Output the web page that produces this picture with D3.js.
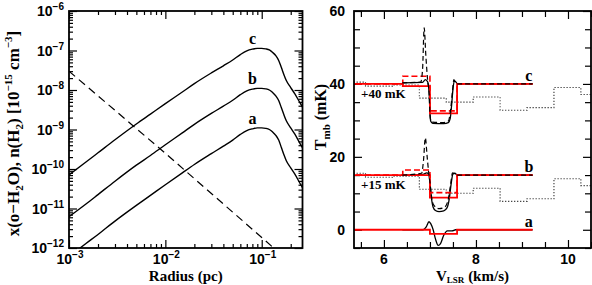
<!DOCTYPE html>
<html>
<head>
<meta charset="utf-8">
<script src="https://cdn.jsdelivr.net/npm/d3@7"></script>
<style>
  body { margin: 0; background: #fff; }
  svg { display: block; }
</style>
</head>
<body>
<div id="chart"></div>
<script>
// ---- left panel: abundance profiles vs radius ----
const radius = [0.001, 0.0015, 0.002, 0.003, 0.005, 0.007, 0.01, 0.015, 0.02, 0.03, 0.04, 0.05,
  0.06, 0.07, 0.08, 0.09, 0.1, 0.11, 0.12, 0.13, 0.14, 0.15, 0.16, 0.17, 0.18, 0.2, 0.22, 0.25, 0.27];
const profileA = [6.1e-13, 1.3e-12, 2.2e-12, 4.8e-12, 1.2e-11, 2.15e-11, 4.0e-11, 8.0e-11, 1.3e-10, 2.45e-10, 3.8e-10, 5.4e-10,
  7.5e-10, 9.4e-10, 1.04e-9, 1.1e-9, 1.1e-9, 1.07e-9, 1.0e-9, 8.6e-10, 7.1e-10, 5.4e-10, 3.5e-10, 2.3e-10, 1.62e-10, 1.07e-10, 7.5e-11, 4.3e-11, 3.1e-11];
const profileB = [6.2e-12, 1.3e-11, 2.25e-11, 4.9e-11, 1.25e-10, 2.2e-10, 4.1e-10, 8.2e-10, 1.35e-9, 2.55e-9, 3.9e-9, 5.5e-9,
  7.6e-9, 9.5e-9, 1.05e-8, 1.1e-8, 1.1e-8, 1.07e-8, 1.0e-8, 8.6e-9, 7.1e-9, 5.4e-9, 3.55e-9, 2.35e-9, 1.66e-9, 1.1e-9, 7.7e-10, 4.4e-10, 3.2e-10];
const profileC = [7.1e-11, 1.5e-10, 2.57e-10, 5.5e-10, 1.38e-9, 2.45e-9, 4.5e-9, 8.9e-9, 1.45e-8, 2.7e-8, 4.1e-8, 5.75e-8,
  7.9e-8, 9.8e-8, 1.08e-7, 1.135e-7, 1.135e-7, 1.1e-7, 1.035e-7, 8.9e-8, 7.4e-8, 5.6e-8, 3.7e-8, 2.45e-8, 1.74e-8, 1.15e-8, 8.1e-9, 4.7e-9, 3.4e-9];
const densR = [0.001, 0.01, 0.14];
const densH2 = [3.0e-8, 2.5e-10, 9e-13];
const profileLabels = ["a", "b", "c"];

// ---- right panel: spectra (mK, before offset) ----
const offsets = { a: 0, b: 15, c: 40 };
const obsEdges = [5.015, 5.60, 6.185, 6.77, 7.355, 7.94, 8.525, 9.11, 9.695, 10.28, 10.865];
const obsT = [0.5, -0.6, -0.3, -3.9, -5.0, -3.6, -7.2, -6.5, -1.0, -2.9];
const modelEdges = [5.2, 6.41, 7.0, 7.59, 9.23];
const redSolidA = [0, 0, -1.1, 0];
const redSolidB = [0, 0, -6.2, 0];
const redDashB = [0, 1.4, -4.8, 0];
const redSolidC = [0, -0.6, -8.1, 0];
const redDashC = [0, 2.1, -7.4, 0];
const solidA = [[6.40, 0], [6.85, 0], [6.92, 0.8], [6.98, 2.2], [7.02, 1.6], [7.07, 0], [7.12, -2.5], [7.18, -4.3],
  [7.23, -3.8], [7.30, -1.5], [7.38, -0.3], [7.48, -0.3], [7.56, 0], [9.23, 0]];
const solidB = [[6.40, 0], [6.85, 0.2], [6.93, 0.6], [6.97, 0.3], [7.00, -2], [7.03, -6], [7.07, -8.8], [7.12, -9.7],
  [7.20, -10.0], [7.30, -9.8], [7.37, -9.0], [7.42, -6.5], [7.46, -2.5], [7.50, 0.3], [7.54, 0.5], [7.60, 0], [9.23, 0]];
const dashB = [[6.40, 0], [6.82, 0.5], [6.86, 4], [6.90, 10.2], [6.94, 5], [6.97, 1], [7.00, -2], [7.03, -5.5],
  [7.08, -8.2], [7.20, -9.2], [7.32, -8.8], [7.40, -6.5], [7.45, -2.5], [7.49, 0.6], [7.53, 0.4], [7.60, 0], [9.23, 0]];
const solidC = [[6.40, 0.3], [6.84, 0.4], [6.90, 1.2], [6.95, 0.6], [6.985, -3], [7.00, -8], [7.02, -10.3], [7.06, -10.8],
  [7.30, -10.9], [7.40, -10.6], [7.44, -9.5], [7.47, -6], [7.50, -1.5], [7.53, 0.8], [7.56, 0.6], [7.60, 0], [9.23, 0]];
const dashC = [[6.40, 0.3], [6.80, 0.5], [6.84, 4], [6.875, 15.4], [6.91, 8], [6.95, 1], [6.985, -3], [7.00, -8],
  [7.02, -10], [7.06, -10.5], [7.30, -10.6], [7.40, -10.2], [7.45, -7], [7.49, -2], [7.52, 1.2], [7.55, 0.5], [7.60, 0], [9.23, 0]];

const W = 592, H = 285;
const svg = d3.select("#chart").append("svg").attr("width", W).attr("height", H);

const tickFont = "'Liberation Sans', Arial, sans-serif";
const titleFont = "'Liberation Serif', 'Times New Roman', serif";

const L = { x0: 69, x1: 302.5, y0: 11, y1: 248 };
const R = { x0: 354, x1: 591, y0: 11, y1: 248 };

const xr = d3.scaleLog().domain([1e-3, 0.265]).range([L.x0, L.x1]);
const yr = d3.scaleLog().domain([1e-12, 1e-6]).range([L.y1, L.y0]);
const xv = d3.scaleLinear().domain([5.35, 10.5]).range([R.x0, R.x1]);
const yt = d3.scaleLinear().domain([-5, 60]).range([R.y1, R.y0]);

// ticks on all four sides, pointing into the plot
function inwardTicks(g, box, xs, ys, xVals, yVals, len) {
  const mk = (axis, tr) => g.append("g").attr("transform", tr)
    .call(axis)
    .call(s => s.select(".domain").remove())
    .call(s => s.selectAll("line").attr("stroke", "#000").attr("stroke-width", 1.2));
  mk(d3.axisBottom(xs).tickValues(xVals).tickSizeInner(-len).tickSizeOuter(0).tickFormat(""), `translate(0,${box.y1})`);
  mk(d3.axisTop(xs).tickValues(xVals).tickSizeInner(-len).tickSizeOuter(0).tickFormat(""), `translate(0,${box.y0})`);
  mk(d3.axisLeft(ys).tickValues(yVals).tickSizeInner(-len).tickSizeOuter(0).tickFormat(""), `translate(${box.x0},0)`);
  mk(d3.axisRight(ys).tickValues(yVals).tickSizeInner(-len).tickSizeOuter(0).tickFormat(""), `translate(${box.x1},0)`);
}

function frame(g, box) {
  g.append("rect").attr("x", box.x0).attr("y", box.y0)
    .attr("width", box.x1 - box.x0).attr("height", box.y1 - box.y0)
    .attr("fill", "none").attr("stroke", "#000").attr("stroke-width", 1.8);
}

function clip(id, box) {
  svg.append("clipPath").attr("id", id).append("rect")
    .attr("x", box.x0).attr("y", box.y0).attr("width", box.x1 - box.x0).attr("height", box.y1 - box.y0);
}
clip("clipL", L);
clip("clipR", R);

// ===== LEFT PANEL =====
const gl = svg.append("g");
const decadesX = [1e-3, 1e-2, 1e-1];
const minorX = [];
decadesX.forEach(d => { for (let k = 2; k <= 9; k++) if (d * k <= 0.265) minorX.push(d * k); });
const decadesY = [1e-12, 1e-11, 1e-10, 1e-9, 1e-8, 1e-7, 1e-6];
const minorY = [];
decadesY.slice(0, -1).forEach(d => { for (let k = 2; k <= 9; k++) minorY.push(d * k); });

inwardTicks(gl, L, xr, yr, decadesX, decadesY, 8);
inwardTicks(gl, L, xr, yr, minorX, minorY, 4);

const linesL = gl.append("g").attr("clip-path", "url(#clipL)");
const lineL = d3.line().x(d => xr(d[0])).y(d => yr(d[1])).curve(d3.curveMonotoneX);
[profileA, profileB, profileC].forEach(p => {
  linesL.append("path").datum(radius.map((r, i) => [r, p[i]]))
    .attr("d", lineL).attr("fill", "none").attr("stroke", "#000").attr("stroke-width", 1.4);
});
linesL.append("path").datum(densR.map((r, i) => [r, densH2[i]]))
  .attr("d", d3.line().x(d => xr(d[0])).y(d => yr(d[1])))
  .attr("fill", "none").attr("stroke", "#000").attr("stroke-width", 1.2).attr("stroke-dasharray", "8,5");

frame(gl, L);

// labels a b c above the profile peaks
const peakR = 0.095;
[profileA, profileB, profileC].forEach((p, i) => {
  const peak = d3.max(p);
  gl.append("text").attr("x", xr(peakR) - 7).attr("y", yr(peak) - 4)
    .attr("text-anchor", "middle").attr("font-family", titleFont).attr("font-weight", "bold")
    .attr("font-size", 16).text(profileLabels[i]);
});

// log tick labels
function powLabel(g, x, y, exp, anchor) {
  const t = g.append("text").attr("x", x).attr("y", y).attr("text-anchor", anchor)
    .attr("font-family", tickFont).attr("font-weight", "bold").attr("font-size", 14);
  t.append("tspan").text("10");
  t.append("tspan").attr("dy", -6).attr("font-size", 10).text("\u2212" + exp);
}
decadesX.forEach(d => powLabel(gl, xr(d) + 1, 263.5, Math.round(-Math.log10(d)), "middle"));
decadesY.forEach(d => powLabel(gl, 64, yr(d) + 5, Math.round(-Math.log10(d)), "end"));

gl.append("text").attr("x", (L.x0 + L.x1) / 2).attr("y", 281).attr("text-anchor", "middle")
  .attr("font-family", titleFont).attr("font-weight", "bold").attr("font-size", 15).text("Radius (pc)");

const ytl = gl.append("text").attr("transform", `translate(19,${(L.y0 + L.y1) / 2 + 4}) rotate(-90)`)
  .attr("text-anchor", "middle").attr("font-family", titleFont).attr("font-weight", "bold").attr("font-size", 17);
ytl.append("tspan").text("x(o\u2212H");
ytl.append("tspan").attr("dy", 4).attr("font-size", 11).text("2");
ytl.append("tspan").attr("dy", -4).text("O), n(H");
ytl.append("tspan").attr("dy", 4).attr("font-size", 11).text("2");
ytl.append("tspan").attr("dy", -4).text(") [10");
ytl.append("tspan").attr("dy", -7).attr("font-size", 11).text("\u221215");
ytl.append("tspan").attr("dy", 7).text(" cm");
ytl.append("tspan").attr("dy", -7).attr("font-size", 11).text("\u22123");
ytl.append("tspan").attr("dy", 7).text("]");

// ===== RIGHT PANEL =====
const gr = svg.append("g");
const majorV = [6, 8, 10];
const minorV = d3.range(5.5, 10.51, 0.5).filter(v => !majorV.includes(v));
const majorT = [0, 20, 40, 60];
const minorT = d3.range(-5, 60, 5).filter(v => !majorT.includes(v));
inwardTicks(gr, R, xv, yt, majorV, majorT, 8);
inwardTicks(gr, R, xv, yt, minorV, minorT, 6);

const spec = gr.append("g").attr("clip-path", "url(#clipR)");
const stepLine = (edges, vals, off) => {
  const pts = vals.map((v, i) => [edges[i], v + off]);
  pts.push([edges[edges.length - 1], vals[vals.length - 1] + off]);
  return d3.line().x(d => xv(d[0])).y(d => yt(d[1])).curve(d3.curveStepAfter)(pts);
};
const smooth = (pts, off) => d3.line().x(d => xv(d[0])).y(d => yt(d[1] + off)).curve(d3.curveMonotoneX)(pts);

// observed spectrum (dotted) shown under models b and c
[offsets.c, offsets.b].forEach(off => {
  spec.append("path").attr("d", stepLine(obsEdges, obsT, off)).attr("fill", "none")
    .attr("stroke", "#333").attr("stroke-width", 1.1).attr("stroke-dasharray", "1.2,1.8");
});

const groups = [
  { off: offsets.c, solid: solidC, dash: dashC, rs: redSolidC, rd: redDashC },
  { off: offsets.b, solid: solidB, dash: dashB, rs: redSolidB, rd: redDashB },
  { off: offsets.a, solid: solidA, dash: null, rs: redSolidA, rd: null }
];
groups.forEach(gp => {
  spec.append("path").attr("d", smooth(gp.solid, gp.off)).attr("fill", "none")
    .attr("stroke", "#000").attr("stroke-width", 1.3);
  spec.append("path").attr("d", stepLine(modelEdges, gp.rs, gp.off)).attr("fill", "none")
    .attr("stroke", "#ff0000").attr("stroke-width", 1.8);
  if (gp.rd) spec.append("path").attr("d", stepLine(modelEdges, gp.rd, gp.off)).attr("fill", "none")
    .attr("stroke", "#ff0000").attr("stroke-width", 1.6).attr("stroke-dasharray", "6,3");
  if (gp.dash) spec.append("path").attr("d", smooth(gp.dash, gp.off)).attr("fill", "none")
    .attr("stroke", "#000").attr("stroke-width", 1.2).attr("stroke-dasharray", "5,3");
});

frame(gr, R);

// tick labels
majorV.forEach(v => gr.append("text").attr("x", xv(v)).attr("y", 263.5).attr("text-anchor", "middle")
  .attr("font-family", tickFont).attr("font-weight", "bold").attr("font-size", 14).text(v));
majorT.forEach(v => gr.append("text").attr("x", 345).attr("y", yt(v) + 5).attr("text-anchor", "end")
  .attr("font-family", tickFont).attr("font-weight", "bold").attr("font-size", 14).text(v));

// curve labels and offsets
[["c", offsets.c], ["b", offsets.b], ["a", offsets.a]].forEach(([lab, off]) => {
  gr.append("text").attr("x", xv(9.15)).attr("y", yt(off) - 3).attr("text-anchor", "middle")
    .attr("font-family", titleFont).attr("font-weight", "bold").attr("font-size", 16).text(lab);
});
[["+40 mK", offsets.c], ["+15 mK", offsets.b]].forEach(([lab, off]) => {
  gr.append("text").attr("x", 361).attr("y", yt(off) + 14).attr("font-family", titleFont)
    .attr("font-weight", "bold").attr("font-size", 13).text(lab);
});

const xtr = gr.append("text").attr("x", (R.x0 + R.x1) / 2).attr("y", 280.5).attr("text-anchor", "middle")
  .attr("font-family", titleFont).attr("font-weight", "bold").attr("font-size", 15);
xtr.append("tspan").text("V");
xtr.append("tspan").attr("dy", 2.5).attr("font-size", 9).text("LSR");
xtr.append("tspan").attr("dy", -2.5).text(" (km/s)");

const ytr = gr.append("text").attr("transform", `translate(326,117) rotate(-90)`).attr("text-anchor", "middle")
  .attr("font-family", titleFont).attr("font-weight", "bold").attr("font-size", 16);
ytr.append("tspan").text("T");
ytr.append("tspan").attr("dy", 4).attr("font-size", 11).text("mb");
ytr.append("tspan").attr("dy", -4).text(" (mK)");
</script>
</body>
</html>
